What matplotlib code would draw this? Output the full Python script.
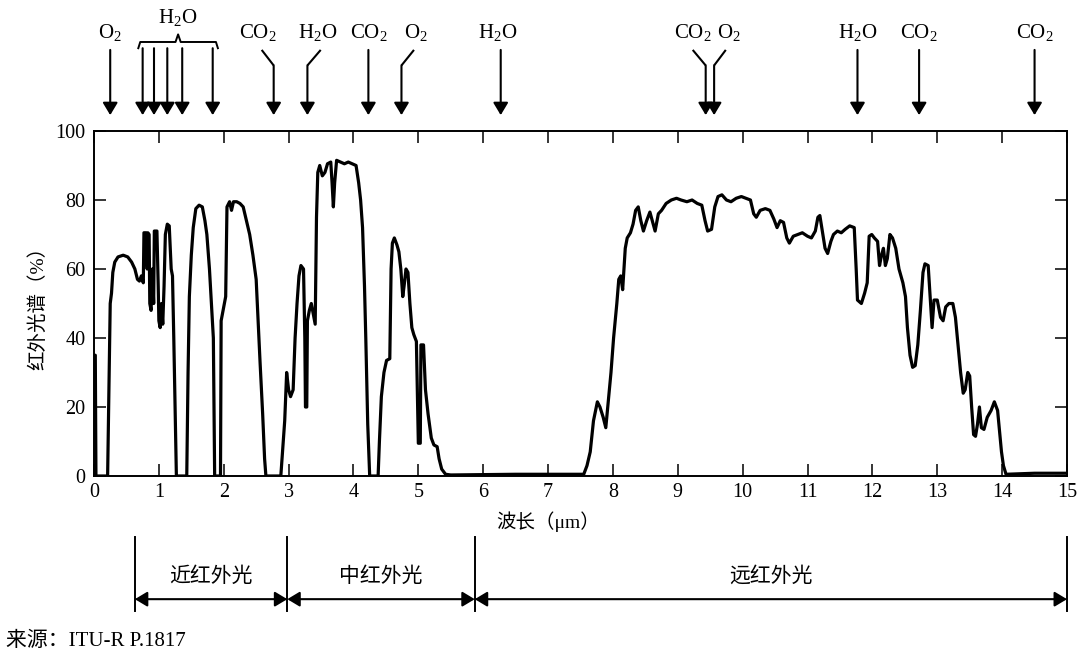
"""Atmospheric infrared transmission spectrum with absorber annotations."""

import matplotlib

matplotlib.use("Agg")
import matplotlib.pyplot as plt
from matplotlib.transforms import blended_transform_factory

# spectrum (wavelength in um, transmission in %)
WAVELENGTH = [
    0.00, 0.02, 0.03, 0.21, 0.23, 0.25, 0.27, 0.29, 0.32, 0.37, 0.45, 0.52, 0.58, 0.63,
    0.67, 0.70, 0.73, 0.76, 0.77, 0.80, 0.82, 0.83, 0.85, 0.86, 0.88, 0.90, 0.92, 0.93,
    0.97, 0.99, 1.00, 1.02, 1.04, 1.06, 1.08, 1.10, 1.13, 1.16, 1.19, 1.21, 1.23, 1.25,
    1.27, 1.43, 1.45, 1.47, 1.50, 1.53, 1.57, 1.62, 1.67, 1.71, 1.74, 1.78, 1.81, 1.84,
    1.86, 1.95, 1.96, 2.00, 2.03, 2.05, 2.09, 2.12, 2.15, 2.20, 2.25, 2.30, 2.35, 2.40,
    2.45, 2.50, 2.53, 2.56, 2.60, 2.63, 2.65, 2.88, 2.91, 2.94, 2.97, 3.00, 3.03, 3.07,
    3.10, 3.13, 3.16, 3.19, 3.23, 3.25, 3.26, 3.28, 3.29, 3.32, 3.35, 3.38, 3.41, 3.43,
    3.45, 3.48, 3.52, 3.56, 3.60, 3.65, 3.67, 3.69, 3.71, 3.74, 3.80, 3.86, 3.92, 3.98,
    4.04, 4.08, 4.11, 4.14, 4.17, 4.19, 4.22, 4.25, 4.38, 4.40, 4.43, 4.47, 4.51, 4.56,
    4.58, 4.60, 4.63, 4.67, 4.70, 4.73, 4.76, 4.78, 4.81, 4.84, 4.87, 4.90, 4.93, 4.97,
    4.99, 5.00, 5.03, 5.04, 5.08, 5.11, 5.15, 5.20, 5.24, 5.29, 5.32, 5.36, 5.42, 5.50,
    6.50, 7.55, 7.60, 7.65, 7.70, 7.76, 7.80, 7.85, 7.89, 7.93, 7.97, 8.01, 8.06, 8.09,
    8.12, 8.15, 8.19, 8.22, 8.27, 8.31, 8.35, 8.39, 8.43, 8.47, 8.52, 8.57, 8.62, 8.65,
    8.70, 8.75, 8.82, 8.90, 8.98, 9.05, 9.14, 9.22, 9.30, 9.37, 9.42, 9.46, 9.52, 9.57,
    9.62, 9.68, 9.75, 9.82, 9.90, 9.98, 10.05, 10.12, 10.17, 10.21, 10.27, 10.35, 10.42,
    10.48, 10.53, 10.58, 10.63, 10.68, 10.72, 10.78, 10.85, 10.92, 11.00, 11.06, 11.12,
    11.16, 11.19, 11.22, 11.27, 11.31, 11.36, 11.40, 11.46, 11.52, 11.58, 11.65, 11.72,
    11.75, 11.77, 11.83, 11.88, 11.92, 11.95, 11.99, 12.03, 12.08, 12.11, 12.14, 12.17,
    12.20, 12.23, 12.27, 12.31, 12.36, 12.41, 12.47, 12.51, 12.54, 12.58, 12.62, 12.66,
    12.70, 12.74, 12.78, 12.81, 12.86, 12.89, 12.92, 12.95, 13.00, 13.05, 13.09, 13.13,
    13.18, 13.24, 13.28, 13.32, 13.36, 13.40, 13.43, 13.47, 13.50, 13.53, 13.56, 13.59,
    13.62, 13.65, 13.68, 13.72, 13.77, 13.83, 13.88, 13.93, 13.96, 13.99, 14.02, 14.06,
    14.50, 15.00,
]
TRANSMISSION = [
    35, 35, 0, 0, 25, 50, 53, 59, 62, 63.5, 64, 63.5, 62, 60,
    57, 56.5, 58, 56, 70.5, 70.5, 60, 70.5, 70, 50, 48, 60, 50, 71,
    71, 55, 45, 43, 50, 44, 55, 70, 73, 72.5, 60, 58, 40, 20,
    0, 0, 30, 52, 64, 72, 77.5, 78.5, 78, 74, 70, 60, 50, 40,
    0, 0, 45, 49, 52, 78, 79.5, 77, 79.5, 79.5, 79, 78, 74, 70,
    64, 57, 45, 33, 18, 5, 0, 0, 8, 16, 30, 25, 23, 25,
    40, 50, 58, 61, 60, 40, 20, 20, 45, 48, 50, 47, 44, 75,
    88, 90, 87, 88, 90.5, 91, 85, 78, 85, 91.5, 91, 90.5, 91, 90.5,
    90, 85, 80, 72, 55, 40, 15, 0, 0, 10, 23, 30, 33.5, 34,
    60, 67.5, 69, 67, 65, 60, 52, 55, 60, 59, 50, 43, 41, 39,
    20, 9.5, 9.5, 38, 38, 25, 18, 11, 9, 8.5, 5, 2, 0.5, 0.3,
    0.5, 0.5, 3, 7, 16, 21.5, 20, 17, 14, 22, 30, 40, 50, 57,
    58, 54, 66, 69, 70.5, 73, 77, 78, 74, 71, 74, 76.5, 73, 71,
    76, 77, 79, 80, 80.5, 80, 79.5, 80, 79, 78.5, 74, 71, 71.5, 78,
    81, 81.5, 80, 79.5, 80.5, 81, 80.5, 80, 76, 75, 77, 77.5, 77,
    74.5, 72, 74, 73.5, 69, 67.5, 69.5, 70, 70.5, 69.5, 69, 71,
    75, 75.5, 72, 66, 64.5, 68, 70, 71, 70.5, 71.5, 72.5, 72,
    60, 51, 50, 53, 56, 69.5, 70, 69, 68, 61, 64, 66,
    61, 63, 70, 69, 66, 60, 56, 52, 43, 35, 31.5, 32,
    38, 48, 59, 61.5, 61, 52, 43, 51, 51, 46, 45, 49,
    50, 50, 46, 38, 30, 24, 25, 30, 29, 20, 12, 11.5,
    15, 20, 14, 13.5, 17, 19, 21.5, 19, 13, 7, 3, 0.5,
    0.8, 0.8,
]

# absorption markers: arrow tip wavelength and where the leader starts
ARROW_X = [0.25, 0.75, 0.925, 1.13, 1.36, 1.83, 2.77, 3.29, 4.23, 4.74, 6.27,
           9.43, 9.56, 11.77, 12.72, 14.50]
ARROW_TOP_X = [0.25, 0.75, 0.925, 1.13, 1.36, 1.83, 2.585, 3.495, 4.23, 4.933, 6.27,
               9.23, 9.74, 11.77, 12.72, 14.50]
GAS_LABELS = ["O$_2$", "CO$_2$", "H$_2$O", "CO$_2$", "O$_2$", "H$_2$O",
              "CO$_2$", "O$_2$", "H$_2$O", "CO$_2$", "CO$_2$"]
GAS_LABEL_X = [0.25, 2.53, 3.45, 4.24, 4.96, 6.23, 9.23, 9.79, 11.78, 12.71, 14.50]
H2O_GROUP = (0.683, 1.91)

BAND_EDGES = [0.63, 2.98, 5.87, 15.0]
BAND_NAMES = ["近红外光", "中红外光", "远红外光"]


def main() -> None:
    plt.rcParams.update(
        {
            "font.family": ["Liberation Serif", "Noto Sans CJK SC"],
            "mathtext.default": "regular",
            "axes.linewidth": 1.4,
        }
    )

    fig = plt.figure(figsize=(10.8, 6.56), dpi=100)
    ax = fig.add_axes([94 / 1080, 180 / 656, 973 / 1080, 345 / 656])
    ax.plot(WAVELENGTH, TRANSMISSION, color="black", lw=2.3, solid_joinstyle="round")
    ax.set_xlim(0, 15)
    ax.set_ylim(0, 100)
    ax.set_xticks(range(0, 16))
    ax.set_yticks(range(0, 101, 20))
    ax.tick_params(direction="in", length=8.5, width=1.1, top=True, right=True, labelsize=14.5)
    ax.tick_params(axis="x", pad=5)
    ax.tick_params(axis="y", pad=6)

    trans = blended_transform_factory(ax.transData, ax.transAxes)
    ax.text(7.0, -0.133, "波长（μm）", transform=trans, ha="center", va="center", fontsize=14)
    ax.text(-0.058, 0.5, "红外光谱（%）", transform=ax.transAxes, rotation=90,
            ha="center", va="center", fontsize=14)

    arrow_kw = dict(arrowstyle="-|>,head_length=0.75,head_width=0.45", color="black",
                    lw=1.5, shrinkA=0, shrinkB=0, mutation_scale=10)
    y_tip, y_top, y_kink = 1.046, 1.235, 1.19
    for x, top_x in zip(ARROW_X, ARROW_TOP_X):
        start = y_top
        if H2O_GROUP[0] < x < H2O_GROUP[1]:
            start = 1.24
        if top_x != x:
            ax.plot([top_x, x], [y_top, y_kink], transform=trans, color="black",
                    lw=1.5, clip_on=False, solid_capstyle="butt")
            start = y_kink
        ax.annotate("", xy=(x, y_tip), xytext=(x, start), xycoords=trans,
                    textcoords=trans, arrowprops=arrow_kw, annotation_clip=False)

    for label, x in zip(GAS_LABELS, GAS_LABEL_X):
        ax.text(x, 1.27, label, transform=trans, ha="center", va="baseline", fontsize=15)

    # brace over the near-IR water lines
    left, right = H2O_GROUP
    mid = (left + right) / 2
    ax.plot([left, left + 0.03, mid - 0.04, mid, mid + 0.04, right - 0.03, right],
            [1.24, 1.258, 1.258, 1.28, 1.258, 1.258, 1.24],
            transform=trans, color="black", lw=1.4, clip_on=False)
    ax.text(mid, 1.312, "H$_2$O", transform=trans, ha="center", va="baseline", fontsize=15)

    # band ranges under the axis
    for edge in BAND_EDGES:
        ax.plot([edge, edge], [-0.177, -0.391], transform=trans, color="black",
                lw=1.4, clip_on=False)
    band_kw = dict(arrowstyle="<|-|>,head_length=0.75,head_width=0.45", color="black",
                   lw=1.5, shrinkA=0, shrinkB=0, mutation_scale=10)
    for lo, hi, name in zip(BAND_EDGES[:-1], BAND_EDGES[1:], BAND_NAMES):
        ax.annotate("", xy=(hi, -0.357), xytext=(lo, -0.357), xycoords=trans,
                    textcoords=trans, arrowprops=band_kw, annotation_clip=False)
        ax.text((lo + hi) / 2, -0.293, name, transform=trans, ha="center", va="center",
                fontsize=15)

    fig.text(0.006, 0.023, "来源：ITU-R P.1817", ha="left", va="center", fontsize=15)

    fig.savefig("out.png", dpi=100)
    plt.close(fig)


if __name__ == "__main__":
    main()
